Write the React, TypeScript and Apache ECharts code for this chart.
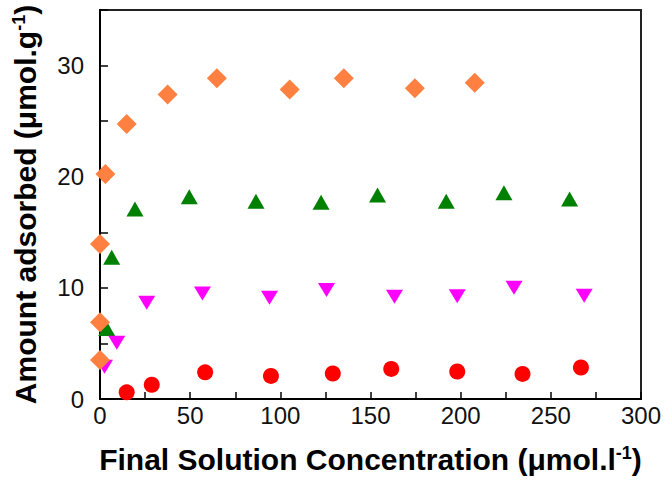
import React, { useEffect, useRef } from "react";
import * as echarts from "echarts";

const xTicks = [0, 50, 100, 150, 200, 250, 300];
const yTicks = [0, 10, 20, 30];

const seriesA = [
  [0, 3.5], [0, 6.9], [0, 13.95], [3.0, 20.25], [14.8, 24.75], [37.5, 27.4],
  [64.8, 28.85], [105.2, 27.85], [135.2, 28.85], [174.6, 27.95], [207.8, 28.45],
];
const seriesB = [
  [-1, 3.1], [3.7, 6.35], [6.5, 12.75], [19.4, 17.1], [49.5, 18.2], [86.5, 17.8],
  [122.6, 17.7], [153.9, 18.35], [192, 17.8], [224, 18.55], [260.4, 18.0],
];
const seriesC = [
  [2.5, 2.9], [9.3, 5.05], [25.9, 8.65], [56.8, 9.5], [94, 9.1], [125.6, 9.8],
  [163.3, 9.2], [198.1, 9.25], [229.6, 10.0], [268.5, 9.3],
];
const seriesD = [
  [14.8, 0.6], [28.7, 1.28], [58.3, 2.4], [94.8, 2.08], [129.1, 2.29],
  [161.5, 2.71], [198.1, 2.47], [234.3, 2.26], [266.7, 2.83],
];

const FONT = "'Liberation Sans', Arial, sans-serif";

export default function App() {
  const ref = useRef<HTMLDivElement>(null);
  useEffect(() => {
    if (!ref.current) return;
    const chart = echarts.init(ref.current, null, { renderer: "svg" });
    const titleRich = {
      sup: { fontSize: 18, fontWeight: "bold", fontFamily: FONT, color: "#000", verticalAlign: "top", lineHeight: 30 },
    };
    chart.setOption({
      animation: false,
      backgroundColor: "#fff",
      grid: {
        left: 100, right: 25, top: 10, bottom: 85,
        show: true, borderColor: "#222", borderWidth: 2, backgroundColor: "transparent",
      },
      xAxis: {
        type: "value", min: 0, max: 300, interval: 25,
        name: "Final Solution Concentration (μmol.l{sup|-1})",
        nameLocation: "middle", nameGap: 45,
        nameTextStyle: { fontSize: 30, fontWeight: "bold", fontFamily: FONT, color: "#000", rich: titleRich },
        axisLine: { show: true, lineStyle: { color: "#000", width: 2 } },
        axisTick: { show: true, inside: true, length: 7, lineStyle: { color: "#000", width: 1.5 } },
        axisLabel: {
          fontSize: 24, fontFamily: FONT, color: "#111", margin: 4,
          formatter: (v: number) => (xTicks.includes(v) ? String(v) : ""),
        },
        splitLine: { show: false },
      },
      yAxis: {
        type: "value", min: 0, max: 35, interval: 5,
        name: "Amount adsorbed (μmol.g{sup|-1})",
        nameLocation: "middle", nameGap: 60,
        nameTextStyle: { fontSize: 30, fontWeight: "bold", fontFamily: FONT, color: "#000", rich: titleRich },
        axisLine: { show: true, lineStyle: { color: "#000", width: 2 } },
        axisTick: { show: true, inside: true, length: 8, lineStyle: { color: "#000", width: 1.5 } },
        axisLabel: {
          fontSize: 24, fontFamily: FONT, color: "#111", margin: 16,
          formatter: (v: number) => (yTicks.includes(v) ? String(v) : ""),
        },
        splitLine: { show: false },
      },
      series: [
        { type: "scatter", data: seriesD, symbol: "circle", symbolSize: 16, itemStyle: { color: "#FF0000", opacity: 1 } },
        { type: "scatter", data: seriesB, symbol: "triangle", symbolSize: [17, 15], itemStyle: { color: "#008000", opacity: 1 } },
        { type: "scatter", data: seriesC, symbol: "triangle", symbolRotate: 180, symbolSize: [17, 14], itemStyle: { color: "#FF00FF", opacity: 1 } },
        { type: "scatter", data: seriesA, symbol: "diamond", symbolSize: 20, itemStyle: { color: "#FF8040", opacity: 1 } },
      ],
    });
    return () => chart.dispose();
  }, []);
  return <div ref={ref} style={{ width: 666, height: 484, position: "absolute", left: 0, top: 0 }} />;
}
